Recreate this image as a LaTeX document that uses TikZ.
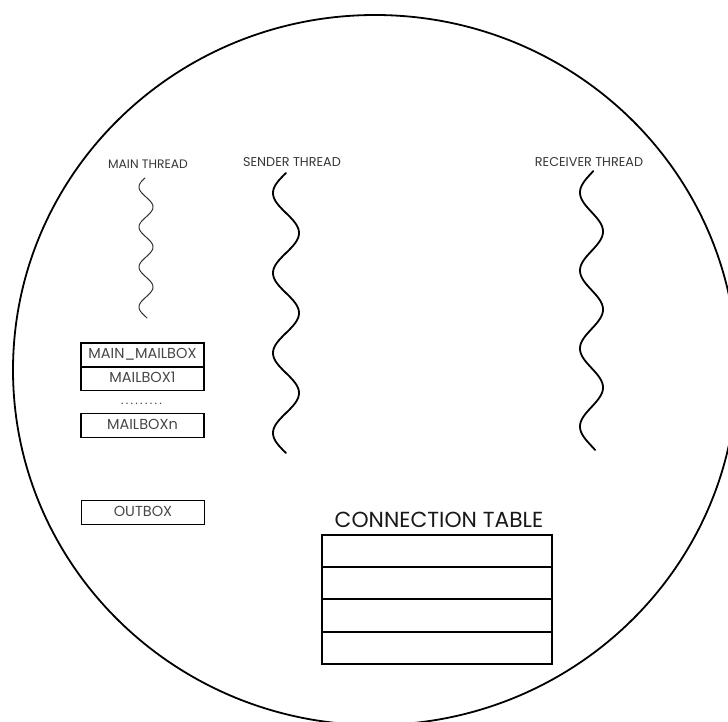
\documentclass[tikz,border=0pt]{standalone}
\usepackage{fontspec}
\setmainfont{Poppins}
\begin{document}
\begin{tikzpicture}[x=1pt,y=-1pt,
  lbl/.style={inner sep=0pt,anchor=base,text=black!78,font=\fontsize{12.8}{14}\selectfont},
  mbox/.style={draw,line width=1.6pt,minimum width=123pt,minimum height=24pt,inner sep=0pt,
    text height=0.7em,text depth=0pt,text=black!72,font=\fontsize{14.5}{16}\selectfont},
  trow/.style={draw,line width=1.5pt,minimum width=230pt,minimum height=32pt,inner sep=0pt},
  thickthread/.style={line width=1.8pt,line cap=round},
  thinthread/.style={line width=1pt,black!80,line cap=round}]
\useasboundingbox (0,0) rectangle (728,722);
\clip (0,0) rectangle (728,722);
\fill[white] (0,0) rectangle (728,722);
% outer boundary
\draw[line width=1.8pt] (375,370) ellipse [x radius=362pt, y radius=355pt];
% labels
\node[lbl,font=\fontsize{12.3}{14}\selectfont] (mainlbl) at (148,168.5) {MAIN THREAD};
\node[lbl] (sendlbl) at (292,166.5) {SENDER THREAD};
\node[lbl] (recvlbl) at (589,166.5) {RECEIVER THREAD};
% threads
\draw[thinthread] plot[variable=\t,domain=178:318,samples=200,smooth] ({146+7*sin(9*(\t-197))},\t);
\draw[thickthread] plot[variable=\t,domain=173:453,samples=250,smooth] ({286+13*sin(4.5*(\t-213))},\t);
\draw[thickthread] plot[variable=\t,domain=171:450,samples=250,smooth] ({591.5+11.5*sin(4.615*(\t-212))},\t);
% mailboxes
\node[mbox] (mainmb) at (142.5,355) {MAIN\_MAILBOX};
\node[mbox] (mb1) at (142.5,378.5) {MAILBOX1};
\node[inner sep=0pt,anchor=base,text=black!75,font=\fontsize{12}{12}\selectfont] (dots) at (141.5,404)
  {\makebox[41pt]{.\hfill.\hfill.\hfill.\hfill.\hfill.\hfill.\hfill.\hfill.}};
\node[mbox] (mbn) at (142.5,425.5) {MAILBOXn};
\node[mbox] (outbox) at (143,512.5) {OUTBOX};
% connection table
\node[inner sep=0pt,anchor=base,text=black!90,font=\fontsize{21.8}{24}\selectfont] (cttitle) at (439,527) {CONNECTION TABLE};
\node[trow] (r1) at (437,551) {};
\node[trow] (r2) at (437,583) {};
\node[trow] (r3) at (437,615.5) {};
\node[trow] (r4) at (437,648) {};
\end{tikzpicture}
\end{document}
